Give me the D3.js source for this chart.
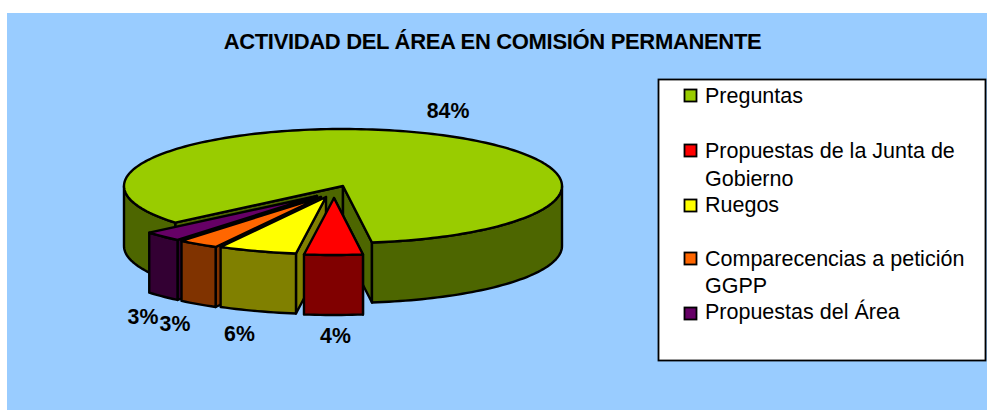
<!DOCTYPE html>
<html><head><meta charset="utf-8">
<script src="https://cdn.jsdelivr.net/npm/d3@7/dist/d3.min.js"></script>
<style>html,body{margin:0;padding:0;background:#fff}svg{display:block}text{font-family:"Liberation Sans",Arial,sans-serif}</style>
</head><body><svg id="c" width="987" height="410"></svg>
<script>
const categories = ["Preguntas","Propuestas de la Junta de Gobierno","Ruegos","Comparecencias a petición GGPP","Propuestas del Área"];
const values = [84,4.3,5.8,3,2.9];
const percentLabels = ["84%","4%","6%","3%","3%"];
const topColors = ["#99cc00","#ff0000","#ffff00","#ff6600","#660066"];
const sideColors = ["#4d6600","#800000","#808000","#803300","#330033"];
const legendLines = [["Preguntas"],["Propuestas de la Junta de","Gobierno"],["Ruegos"],["Comparecencias a petición","GGPP"],["Propuestas del Área"]];
const titleText = "ACTIVIDAD DEL ÁREA EN COMISIÓN PERMANENTE";

const svg = d3.select("#c");
const deg = Math.PI/180;
const cx=343, cy=186, rx=219, ry=57, depth=60;
const shifts = [[0,0],[-9,12],[-17,11],[-22,11],[-26,10]];
const labelPos = [[448,118],[335.5,343],[239.5,341],[175,331],[143,324]];
const legendY = [[103],[158,186],[212],[266,293],[319]];
const legendSwatchY = [95.5,150.5,205.5,258.5,313.5];

svg.append("rect").attr("x",7).attr("y",13).attr("width",980).attr("height",397).attr("fill","#99ccff");

svg.append("text").attr("x",492.5).attr("y",49).attr("text-anchor","middle")
  .attr("font-weight","bold").attr("font-size",22).attr("letter-spacing",-0.33).attr("fill","#000").text(titleText);

const arcs = d3.pie().sort(null).value(d=>d).startAngle(230*deg).endAngle(590*deg)(values);
const line = d3.line();
const pt = (a,dx,dy)=>[cx+dx+rx*Math.sin(a), cy+dy-ry*Math.cos(a)];
const sample = (a0,a1)=>{const n=Math.max(2,Math.ceil(Math.abs(a1-a0)/(1.5*deg)));return d3.range(n+1).map(i=>a0+(a1-a0)*i/n);};
const styled = (sel)=>sel.attr("stroke","#000").attr("stroke-width",2.4).attr("stroke-linejoin","round");

function drawSlice(i){
  const a=arcs[i], [dx,dy]=shifts[i], g=svg.append("g");
  const a0=a.startAngle, a1=a.endAngle;
  const wall=(ang)=>{const p=pt(ang,dx,dy),c=[cx+dx,cy+dy];
    styled(g.append("path")).attr("fill",sideColors[i]).attr("d",line([c,p,[p[0],p[1]+depth],[c[0],c[1]+depth]])+"Z");};
  if(i===0){wall(a0);wall(a1);} else {wall(a0);}
  [[90*deg,270*deg],[450*deg,630*deg]].forEach(([lo,hi])=>{
    const s=Math.max(a0,lo), e=Math.min(a1,hi);
    if(e>s){const top=sample(s,e).map(t=>pt(t,dx,dy));
      const bot=top.map(p=>[p[0],p[1]+depth]).reverse();
      styled(g.append("path")).attr("fill",sideColors[i]).attr("d",line(top.concat(bot))+"Z");}
  });
  const pts=[[cx+dx,cy+dy]].concat(sample(a0,a1).map(t=>pt(t,dx,dy)));
  styled(g.append("path")).attr("fill",topColors[i]).attr("d",line(pts)+"Z");
}
[0,4,3,2,1].forEach(drawSlice);

percentLabels.forEach((t,i)=>svg.append("text").attr("x",labelPos[i][0]).attr("y",labelPos[i][1])
  .attr("text-anchor","middle").attr("font-weight","bold").attr("font-size",21.3).attr("fill","#000").text(t));

svg.append("rect").attr("x",658.5).attr("y",79.5).attr("width",327).attr("height",281).attr("fill","#fff").attr("stroke","#000").attr("stroke-width",1.8);
categories.forEach((c,i)=>{
  svg.append("rect").attr("x",684.5).attr("y",legendSwatchY[i]-6).attr("width",12).attr("height",12)
    .attr("fill",topColors[i]).attr("stroke","#000").attr("stroke-width",1.8);
  legendLines[i].forEach((l,j)=>svg.append("text").attr("x",705).attr("y",legendY[i][j])
    .attr("font-size",21.5).attr("fill","#000").text(l));
});
</script></body></html>
